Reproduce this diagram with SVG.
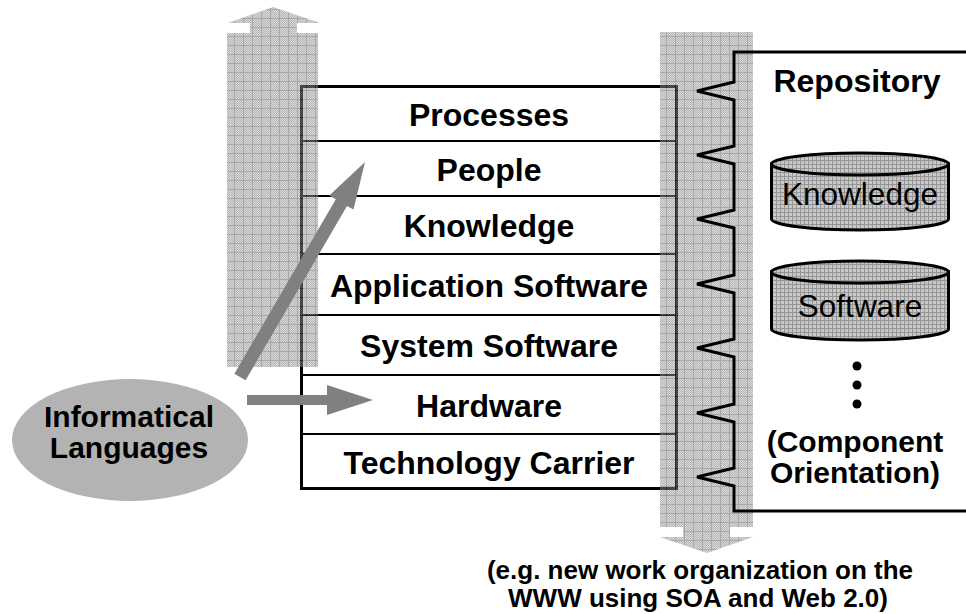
<svg xmlns="http://www.w3.org/2000/svg" width="966" height="614" viewBox="0 0 966 614">
<defs>
<pattern id="dither" width="2" height="2" patternUnits="userSpaceOnUse"><rect width="2" height="2" fill="#707070"/><rect width="1" height="1" fill="#b0b0b0"/><rect x="1" y="1" width="1" height="1" fill="#b0b0b0"/></pattern>
<pattern id="bigGrid" width="9" height="9" patternUnits="userSpaceOnUse"><rect width="9" height="9" fill="url(#dither)"/><path d="M0 0.5H9M0.5 0V9" stroke="#505050" stroke-width="1"/></pattern>
<pattern id="fineGrid" width="4" height="4" patternUnits="userSpaceOnUse"><rect width="4" height="4" fill="#c8c8c8"/><path d="M0 0.5H4M0.5 0V4" stroke="#959595" stroke-width="1"/></pattern>
</defs>
<style>
text{font-family:"Liberation Sans",Arial,sans-serif;fill:#000;text-anchor:middle}
.lbl{font-weight:bold;font-size:32px}
.cyl{font-size:31.5px}
.ell{font-weight:bold;font-size:30px}
.note{font-weight:bold;font-size:26px}
.big{fill:url(#bigGrid);opacity:0.5}
.cylbody{fill:url(#fineGrid);stroke:#000;stroke-width:3}
.conn{fill:#808080}
</style>

<g id="layer-stack">
<rect x="300" y="85" width="378" height="405" fill="#fff"/>
<g stroke="#000" stroke-width="2">
<line x1="300" y1="141" x2="678" y2="141"/>
<line x1="300" y1="196" x2="678" y2="196"/>
<line x1="300" y1="254" x2="678" y2="254"/>
<line x1="300" y1="315" x2="678" y2="315"/>
<line x1="300" y1="375" x2="678" y2="375"/>
<line x1="300" y1="434" x2="678" y2="434"/>
</g>
<rect x="301.5" y="86.5" width="375" height="402" fill="none" stroke="#000" stroke-width="3"/>
</g>

<g id="flow-arrows">
<polygon class="big" points="227,367 227,33 250,33 250,23 228,23 273,7 320,23 297,23 297,33 318,33 318,367"/>
<polygon class="big" points="660,32 753,32 753,527 730,527 730,537 753,537 707,553 660,537 683,537 683,527 660,527"/>
</g>

<g id="layer-labels">
<text class="lbl" x="489" y="126">Processes</text>
<text class="lbl" x="489" y="181">People</text>
<text class="lbl" x="489" y="237">Knowledge</text>
<text class="lbl" x="489" y="297">Application Software</text>
<text class="lbl" x="489" y="357">System Software</text>
<text class="lbl" x="489" y="417">Hardware</text>
<text class="lbl" x="489" y="474">Technology Carrier</text>
</g>

<g id="repository">
<path d="M970,52 H734 V82 L697,91 L734,100 V146 L697,155 L734,164 V210 L697,219 L734,228 V275 L697,284 L734,293 V339 L697,348 L734,357 V404 L697,413 L734,422 V468 L697,477 L734,486 V511 H970" fill="none" stroke="#000" stroke-width="3" stroke-linejoin="miter"/>
<text class="lbl" x="857" y="92">Repository</text>
</g>

<g id="cyl-knowledge">
<path class="cylbody" d="M771.5,164 V219 A88.5,11 0 0 0 948.5,219 V164 Z"/>
<ellipse class="cylbody" cx="860" cy="164" rx="88.5" ry="11"/>
<text class="cyl" x="860" y="205">Knowledge</text>
</g>

<g id="cyl-software">
<path class="cylbody" d="M771.5,272 V329 A88.5,11 0 0 0 948.5,329 V272 Z"/>
<ellipse class="cylbody" cx="860" cy="272" rx="88.5" ry="11"/>
<text class="cyl" x="860" y="317">Software</text>
</g>

<g id="more-dots" fill="#000">
<circle cx="857" cy="366" r="4.5"/>
<circle cx="857" cy="385" r="4.5"/>
<circle cx="857" cy="404" r="4.5"/>
</g>

<g id="component-note">
<text class="ell" x="855" y="452">(Component</text>
<text class="ell" x="855" y="483">Orientation)</text>
</g>

<g id="informatical-languages">
<ellipse cx="130" cy="440" rx="118" ry="61" fill="#b3b3b3"/>
<text class="ell" x="129" y="427">Informatical</text>
<text class="ell" x="129" y="458">Languages</text>
</g>

<g id="bottom-note">
<text class="note" x="700" y="579">(e.g. new work organization on the</text>
<text class="note" x="698" y="607">WWW using SOA and Web 2.0)</text>
</g>

<g id="connectors">
<polygon class="conn" points="234.4,373.7 335.8,199.3 329.3,195.6 365,162 353.5,209.6 347,205.9 245.6,380.3"/>
<polygon class="conn" points="247,395 327,395 327,385 373,400 327,415 327,405 247,405"/>
</g>
</svg>
